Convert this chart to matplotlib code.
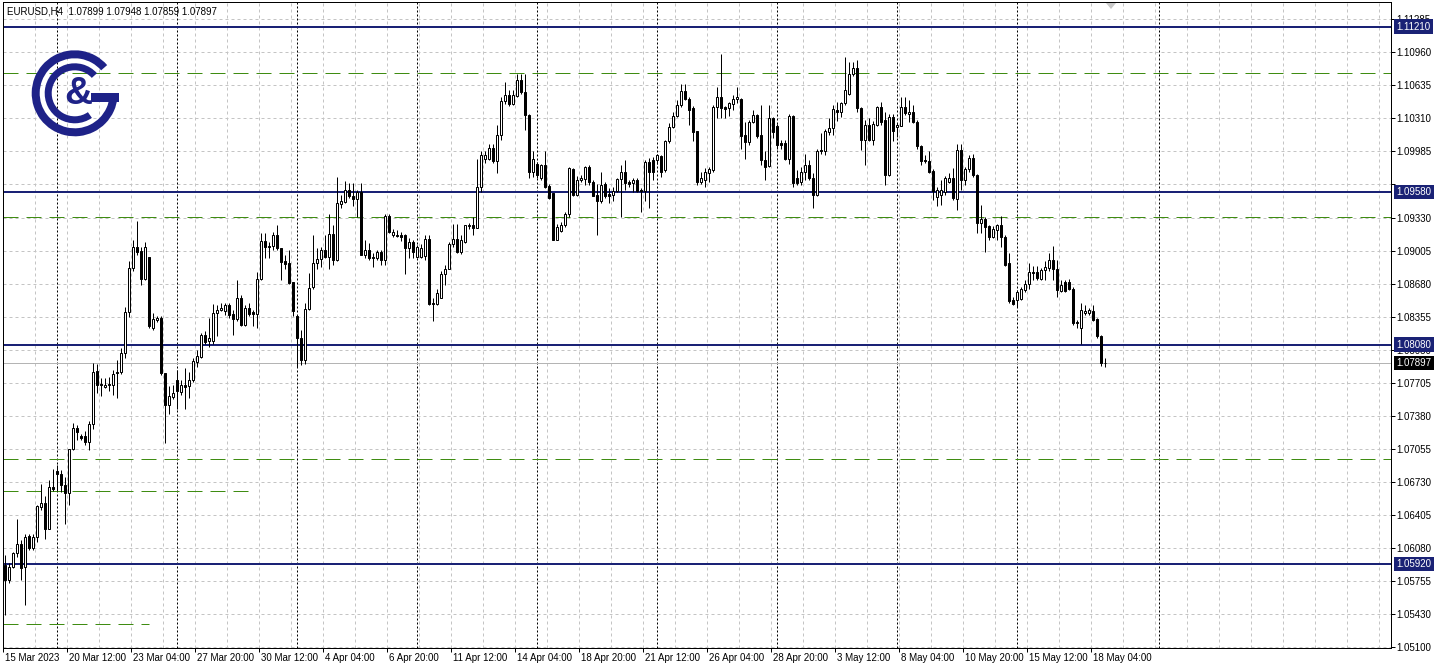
import matplotlib
matplotlib.use("Agg")
import matplotlib.pyplot as plt
from matplotlib.patches import Rectangle, Wedge, Polygon
import matplotlib.transforms as mtransforms

# ---------------- data (EURUSD H4) ----------------
opens = [1.0591, 1.0576, 1.0589, 1.0603, 1.0612, 1.0589, 1.0620, 1.0608, 1.0619, 1.0648,
         1.0652, 1.0626, 1.0668, 1.0684, 1.0681, 1.0670, 1.0662, 1.0705, 1.0726, 1.0718,
         1.0718, 1.0712, 1.0730, 1.0782, 1.0769, 1.0766, 1.0768, 1.0768, 1.0781, 1.0781,
         1.0800, 1.0840, 1.0883, 1.0904, 1.0900, 1.0873, 1.0894, 1.0824, 1.0832, 1.0834,
         1.0780, 1.0749, 1.0756, 1.0773, 1.0761, 1.0768, 1.0767, 1.0773, 1.0791, 1.0796,
         1.0817, 1.0812, 1.0812, 1.0839, 1.0842, 1.0841, 1.0847, 1.0838, 1.0833, 1.0854,
         1.0827, 1.0844, 1.0840, 1.0838, 1.0873, 1.0910, 1.0905, 1.0905, 1.0916, 1.0903,
         1.0890, 1.0888, 1.0870, 1.0836, 1.0814, 1.0793, 1.0843, 1.0865, 1.0888, 1.0892,
         1.0901, 1.0894, 1.0917, 1.0891, 1.0946, 1.0948, 1.0960, 1.0954, 1.0951, 1.0958,
         1.0896, 1.0901, 1.0894, 1.0893, 1.0899, 1.0891, 1.0935, 1.0916, 1.0916, 1.0916,
         1.0916, 1.0903, 1.0909, 1.0894, 1.0894, 1.0895, 1.0912, 1.0849, 1.0848, 1.0854,
         1.0877, 1.0882, 1.0907, 1.0912, 1.0899, 1.0909, 1.0925, 1.0926, 1.0923, 1.0963,
         1.0991, 1.0991, 1.1002, 1.0989, 1.1014, 1.1048, 1.1054, 1.1045, 1.1053, 1.1068,
         1.1057, 1.1034, 1.0978, 1.0986, 1.0972, 1.0985, 1.0964, 1.0957, 1.0911, 1.0920,
         1.0926, 1.0937, 1.0981, 1.0955, 1.0970, 1.0971, 1.0983, 1.0968, 1.0955, 1.0949,
         1.0966, 1.0956, 1.0955, 1.0959, 1.0971, 1.0978, 1.0968, 1.0967, 1.0970, 1.0960,
         1.0959, 1.0988, 1.0990, 1.0990, 1.0994, 1.0980, 1.1008, 1.1022, 1.1033, 1.1044,
         1.1058, 1.1050, 1.1041, 1.1018, 1.0968, 1.0970, 1.0977, 1.0980, 1.1042, 1.1052,
         1.1042, 1.1041, 1.1045, 1.1050, 1.1050, 1.1014, 1.1007, 1.1027, 1.1034, 1.1014,
         1.0990, 1.0984, 1.1031, 1.1023, 1.1006, 1.1006, 1.0991, 1.1033, 1.0972, 1.0968,
         1.0978, 1.0985, 1.0972, 1.0955, 1.1000, 1.0999, 1.1017, 1.1021, 1.1039, 1.1037,
         1.1046, 1.1055, 1.1074, 1.1080, 1.1041, 1.1009, 1.1024, 1.1009, 1.1024, 1.1042,
         1.1029, 1.0975, 1.1032, 1.1022, 1.1023, 1.1042, 1.1035, 1.1037, 1.1027, 1.1003,
         1.0990, 1.0989, 1.0979, 1.0953, 1.0955, 1.0958, 1.0968, 1.0972, 1.0951, 1.1000,
         1.0970, 1.0981, 1.0992, 1.0975, 1.0928, 1.0932, 1.0925, 1.0914, 1.0921, 1.0926,
         1.0914, 1.0888, 1.0852, 1.0852, 1.0853, 1.0862, 1.0868, 1.0879, 1.0879, 1.0873,
         1.0881, 1.0883, 1.0891, 1.0882, 1.0861, 1.0870, 1.0870, 1.0863, 1.0830, 1.0824,
         1.0839, 1.0839, 1.0841, 1.0833, 1.0816, 1.07899]

highs = [1.0601, 1.0593, 1.0604, 1.0636, 1.0616, 1.0622, 1.0622, 1.0622, 1.0650, 1.0671,
         1.0659, 1.0675, 1.0686, 1.0689, 1.0685, 1.0678, 1.0705, 1.0731, 1.0729, 1.0720,
         1.0723, 1.0733, 1.0790, 1.0789, 1.0775, 1.0775, 1.0776, 1.0783, 1.0793, 1.0805,
         1.0845, 1.0890, 1.0911, 1.0930, 1.0904, 1.0909, 1.0894, 1.0839, 1.0836, 1.0836,
         1.0780, 1.0767, 1.0768, 1.0783, 1.0773, 1.0785, 1.0781, 1.0795, 1.0803, 1.0819,
         1.0821, 1.0834, 1.0848, 1.0847, 1.0849, 1.0849, 1.0849, 1.0842, 1.0872, 1.0857,
         1.0847, 1.0849, 1.0842, 1.0879, 1.0918, 1.0918, 1.0909, 1.0919, 1.0926, 1.0903,
         1.0896, 1.0901, 1.0870, 1.0836, 1.0822, 1.0849, 1.0878, 1.0916, 1.0903, 1.0904,
         1.0916, 1.0937, 1.0926, 1.0973, 1.0955, 1.0969, 1.0967, 1.0967, 1.0960, 1.0967,
         1.0911, 1.0908, 1.0898, 1.0901, 1.0901, 1.0937, 1.0937, 1.0922, 1.0921, 1.0919,
         1.0917, 1.0913, 1.0911, 1.0906, 1.0907, 1.0916, 1.0916, 1.0854, 1.0863, 1.0880,
         1.0886, 1.0909, 1.0927, 1.0927, 1.0916, 1.0926, 1.0928, 1.0934, 1.0991, 1.0999,
         1.0999, 1.1005, 1.1005, 1.1024, 1.1052, 1.1066, 1.1059, 1.1059, 1.1074, 1.1074,
         1.1074, 1.1035, 1.0999, 1.0988, 1.0986, 1.0999, 1.0966, 1.0957, 1.0927, 1.0929,
         1.0939, 1.0983, 1.0982, 1.0974, 1.0975, 1.0984, 1.0985, 1.0970, 1.0966, 1.0978,
         1.0968, 1.0962, 1.0963, 1.0972, 1.0985, 1.0990, 1.0970, 1.0972, 1.0972, 1.0962,
         1.0990, 1.0992, 1.0993, 1.0996, 1.0995, 1.1009, 1.1026, 1.1037, 1.1049, 1.1065,
         1.1065, 1.1052, 1.1043, 1.1018, 1.0978, 1.0982, 1.0983, 1.1044, 1.1062, 1.1094,
         1.1043, 1.1047, 1.1054, 1.1062, 1.1051, 1.1027, 1.1029, 1.1039, 1.1035, 1.1044,
         1.0999, 1.1044, 1.1032, 1.1025, 1.1009, 1.1009, 1.1035, 1.1034, 1.0980, 1.0983,
         1.0996, 1.0990, 1.0977, 1.1001, 1.1016, 1.1020, 1.1031, 1.1044, 1.1047, 1.1047,
         1.1091, 1.1086, 1.1086, 1.1088, 1.1042, 1.1029, 1.1031, 1.1028, 1.1043, 1.1047,
         1.1037, 1.1035, 1.1035, 1.1026, 1.1052, 1.1052, 1.1049, 1.1044, 1.1029, 1.1004,
         1.0995, 1.0999, 1.0981, 1.0963, 1.0970, 1.0974, 1.0977, 1.0982, 1.1005, 1.1005,
         1.0983, 1.0995, 1.0996, 1.0976, 1.0945, 1.0934, 1.0926, 1.0925, 1.0927, 1.0935,
         1.0916, 1.0898, 1.0855, 1.0862, 1.0865, 1.0872, 1.0888, 1.0885, 1.0885, 1.0883,
         1.0890, 1.0898, 1.0905, 1.0891, 1.0872, 1.0872, 1.0873, 1.0865, 1.0832, 1.0849,
         1.0847, 1.0844, 1.0847, 1.0834, 1.0817, 1.07948]

lows = [1.0542, 1.0573, 1.0588, 1.0599, 1.0576, 1.0552, 1.0606, 1.0606, 1.0614, 1.0645,
        1.0617, 1.0626, 1.0664, 1.0664, 1.0663, 1.0631, 1.0650, 1.0704, 1.0714, 1.0714,
        1.0709, 1.0704, 1.0725, 1.0760, 1.0757, 1.0765, 1.0762, 1.0758, 1.0755, 1.0779,
        1.0795, 1.0835, 1.0880, 1.0896, 1.0867, 1.0872, 1.0824, 1.0822, 1.0830, 1.0778,
        1.0711, 1.0740, 1.0754, 1.0745, 1.0758, 1.0745, 1.0755, 1.0771, 1.0786, 1.0795,
        1.0809, 1.0806, 1.0809, 1.0816, 1.0841, 1.0837, 1.0834, 1.0817, 1.0831, 1.0826,
        1.0826, 1.0836, 1.0826, 1.0824, 1.0872, 1.0893, 1.0893, 1.0901, 1.0901, 1.0872,
        1.0882, 1.0868, 1.0836, 1.0786, 1.0788, 1.0789, 1.0842, 1.0863, 1.0882, 1.0884,
        1.0893, 1.0882, 1.0886, 1.0890, 1.0942, 1.0947, 1.0952, 1.0944, 1.0934, 1.0896,
        1.0893, 1.0891, 1.0884, 1.0891, 1.0886, 1.0886, 1.0918, 1.0914, 1.0914, 1.0910,
        1.0877, 1.0893, 1.0893, 1.0893, 1.0893, 1.0891, 1.0847, 1.0831, 1.0847, 1.0854,
        1.0867, 1.0882, 1.0904, 1.0898, 1.0897, 1.0908, 1.0922, 1.0916, 1.0923, 1.0958,
        1.0987, 1.0990, 1.0987, 1.0977, 1.1009, 1.1045, 1.1043, 1.1044, 1.1052, 1.1055,
        1.1019, 1.0972, 1.0973, 1.0972, 1.0970, 1.0962, 1.0951, 1.0911, 1.0911, 1.0919,
        1.0924, 1.0934, 1.0954, 1.0954, 1.0968, 1.0965, 1.0965, 1.0954, 1.0916, 1.0947,
        1.0952, 1.0947, 1.0949, 1.0958, 1.0934, 1.0960, 1.0963, 1.0958, 1.0958, 1.0939,
        1.0949, 1.0942, 1.0970, 1.0986, 1.0973, 1.0978, 1.1006, 1.1021, 1.1032, 1.1042,
        1.1049, 1.1024, 1.1008, 1.0965, 1.0966, 1.0963, 1.0968, 1.0978, 1.1031, 1.1031,
        1.1031, 1.1033, 1.1039, 1.1046, 1.1001, 1.0991, 1.1004, 1.1026, 1.1011, 1.0985,
        1.0970, 1.0983, 1.1011, 1.1001, 1.1001, 1.0990, 1.0986, 1.0963, 1.0965, 1.0965,
        1.0970, 1.0970, 1.0942, 1.0954, 1.0996, 1.0995, 1.1014, 1.1014, 1.1028, 1.1032,
        1.1044, 1.1054, 1.1072, 1.1037, 1.1000, 1.0985, 1.1008, 1.1004, 1.1023, 1.1024,
        1.0965, 1.0974, 1.1008, 1.1012, 1.1023, 1.1034, 1.1027, 1.1026, 1.1001, 1.0985,
        1.0987, 1.0977, 1.0950, 1.0944, 1.0945, 1.0955, 1.0967, 1.0950, 1.0940, 1.0960,
        1.0965, 1.0978, 1.0973, 1.0918, 1.0918, 1.0899, 1.0911, 1.0913, 1.0911, 1.0904,
        1.0885, 1.0849, 1.0847, 1.0845, 1.0852, 1.0860, 1.0863, 1.0872, 1.0872, 1.0872,
        1.0872, 1.0880, 1.0872, 1.0855, 1.0860, 1.0860, 1.0862, 1.0827, 1.0824, 1.0809,
        1.0837, 1.0837, 1.0831, 1.0814, 1.0787, 1.07859]

closes = [1.0576, 1.0589, 1.0603, 1.0612, 1.0588, 1.0619, 1.0608, 1.0619, 1.0649, 1.0652,
          1.0626, 1.0668, 1.0666, 1.0681, 1.0670, 1.0662, 1.0705, 1.0726, 1.0722, 1.0716,
          1.0712, 1.0730, 1.0781, 1.0768, 1.0768, 1.0768, 1.0769, 1.0779, 1.0780, 1.0800,
          1.0840, 1.0883, 1.0904, 1.0899, 1.0873, 1.0904, 1.0826, 1.0833, 1.0834, 1.0780,
          1.0749, 1.0757, 1.0760, 1.0762, 1.0768, 1.0766, 1.0773, 1.0792, 1.0797, 1.0817,
          1.0811, 1.0814, 1.0839, 1.0842, 1.0844, 1.0847, 1.0837, 1.0833, 1.0854, 1.0827,
          1.0844, 1.0838, 1.0838, 1.0873, 1.0910, 1.0904, 1.0904, 1.0916, 1.0903, 1.0889,
          1.0887, 1.0869, 1.0841, 1.0814, 1.0793, 1.0843, 1.0864, 1.0888, 1.0892, 1.0901,
          1.0894, 1.0917, 1.0891, 1.0947, 1.0949, 1.0960, 1.0954, 1.0951, 1.0958, 1.0896,
          1.0901, 1.0893, 1.0893, 1.0899, 1.0891, 1.0935, 1.0919, 1.0919, 1.0915, 1.0914,
          1.0903, 1.0909, 1.0899, 1.0904, 1.0903, 1.0912, 1.0848, 1.0848, 1.0859, 1.0877,
          1.0882, 1.0907, 1.0912, 1.0899, 1.0911, 1.0926, 1.0926, 1.0923, 1.0963, 1.0995,
          1.0995, 1.1002, 1.0989, 1.1014, 1.1048, 1.1054, 1.1045, 1.1054, 1.1068, 1.1057,
          1.1034, 1.0978, 1.0991, 1.0975, 1.0985, 1.0963, 1.0952, 1.0911, 1.0924, 1.0926,
          1.0937, 1.0982, 1.0955, 1.0970, 1.0972, 1.0983, 1.0968, 1.0954, 1.0949, 1.0965,
          1.0954, 1.0954, 1.0959, 1.0971, 1.0978, 1.0967, 1.0966, 1.0970, 1.0959, 1.0959,
          1.0988, 1.0978, 1.0978, 1.0995, 1.0978, 1.1008, 1.1022, 1.1033, 1.1044, 1.1058,
          1.1050, 1.1039, 1.1017, 1.0968, 1.0972, 1.0978, 1.0981, 1.1042, 1.1052, 1.1041,
          1.1040, 1.1046, 1.1050, 1.1052, 1.1013, 1.1007, 1.1027, 1.1034, 1.1013, 1.0990,
          1.0983, 1.1031, 1.1017, 1.1004, 1.1004, 1.0991, 1.1033, 1.0967, 1.0967, 1.0978,
          1.0985, 1.0972, 1.0955, 1.0999, 1.0999, 1.1018, 1.1021, 1.1040, 1.1037, 1.1046,
          1.1059, 1.1074, 1.1080, 1.1041, 1.1009, 1.1024, 1.1009, 1.1025, 1.1042, 1.1027,
          1.0975, 1.1032, 1.1018, 1.1024, 1.1042, 1.1036, 1.1037, 1.1027, 1.1003, 1.0989,
          1.0989, 1.0978, 1.0959, 1.0960, 1.0960, 1.0972, 1.0972, 1.0952, 1.1000, 1.0970,
          1.0981, 1.0992, 1.0975, 1.0928, 1.0932, 1.0924, 1.0914, 1.0922, 1.0926, 1.0914,
          1.0886, 1.0851, 1.0848, 1.0860, 1.0863, 1.0868, 1.0879, 1.0878, 1.0874, 1.0881,
          1.0884, 1.0891, 1.0882, 1.0862, 1.0867, 1.0861, 1.0863, 1.0829, 1.0829, 1.0842,
          1.0841, 1.0842, 1.0832, 1.0816, 1.0790, 1.07897]

symbol = "EURUSD,H4"
date_labels = ["15 Mar 2023", "20 Mar 12:00", "23 Mar 04:00", "27 Mar 20:00", "30 Mar 12:00",
               "4 Apr 04:00", "6 Apr 20:00", "11 Apr 12:00", "14 Apr 04:00", "18 Apr 20:00",
               "21 Apr 12:00", "26 Apr 04:00", "28 Apr 20:00", "3 May 12:00", "8 May 04:00",
               "10 May 20:00", "15 May 12:00", "18 May 04:00"]
date_label_bars = [0, 16, 32, 48, 64, 80, 96, 112, 128, 144, 160, 176, 192, 208, 224, 240, 256, 272]
price_ticks = [1.11285, 1.10960, 1.10635, 1.10310, 1.09985, 1.09660, 1.09330, 1.09005, 1.08680,
               1.08355, 1.08030, 1.07705, 1.07380, 1.07055, 1.06730, 1.06405, 1.06080, 1.05755,
               1.05430, 1.05100]
hidden_price_labels = [1.09660]
level_prices = [1.11210, 1.09580, 1.08080, 1.05920]
green_prices = [1.10750, 1.09333, 1.06954, 1.06639, 1.05329]
green_end_bars = [None, None, None, 61.0, 36.0]
week_separator_bars = [13, 43, 73, 103, 133, 163, 193, 223, 253, 288.7]
current_price = closes[-1]

# ---------------- layout ----------------
W, H, DPI = 1436, 670, 100
PX = 72.0 / DPI
plt.rcParams['font.family'] = ['Liberation Sans', 'DejaVu Sans']
plt.rcParams['lines.scale_dashes'] = False

NAVY = '#1a2275'
GREEN = '#3f8c12'
GRID = '#c4c4c4'

fig = plt.figure(figsize=(W / DPI, H / DPI), dpi=DPI)
fig.patch.set_facecolor('white')

L, R, T, B = 3, 1391, 2, 648
ax = fig.add_axes([L / W, 1 - B / H, (R - L) / W, (B - T) / H])
x0, step = 4.5, 4.0
ax.set_xlim((L - x0) / step, (R - x0) / step)
y_ref, p_ref, ppx = 19, 1.11285, 0.00009844
ax.set_ylim(p_ref - (B - y_ref) * ppx, p_ref + (y_ref - T) * ppx)
xmin, xmax = ax.get_xlim()

# grid
for p in price_ticks:
    ax.axhline(p, color=GRID, lw=PX, ls=(0, (3 * PX, 3 * PX)), zorder=0.5)
k = 0
while k * 8 - 0.4 < xmax:
    ax.axvline(k * 8 - 0.4, color=GRID, lw=PX, ls=(0, (3 * PX, 3 * PX)), zorder=0.5)
    k += 1

# week separators
for s in week_separator_bars:
    ax.axvline(s, color='black', lw=PX, ls=(0, (2 * PX, 2 * PX)), zorder=1)

# green dashed levels
for p, e in zip(green_prices, green_end_bars):
    ax.hlines(p, xmin, e if e is not None else xmax, color=GREEN, lw=PX,
              linestyles=[(0, (15 * PX, 8 * PX))], zorder=2)

# current price line
ax.axhline(current_price, color='#b4b4b4', lw=PX, zorder=1.5)

# navy levels
for p in level_prices:
    ax.axhline(p, color=NAVY, lw=2 * PX, zorder=2.2)

# candles
bw = 0.5
for i, (o, h, l, c) in enumerate(zip(opens, highs, lows, closes)):
    ax.vlines(i, l, h, color='black', lw=PX, zorder=5)
    ax.add_patch(Rectangle((i - bw / 2, min(o, c)), bw, abs(c - o),
                           facecolor='white' if c >= o else 'black',
                           edgecolor='black', lw=PX, zorder=6))

# spines
for sp in ax.spines.values():
    sp.set_color('black')
    sp.set_linewidth(PX)

# y axis on the right
ax.yaxis.tick_right()
ax.set_yticks(price_ticks)
ax.set_yticklabels(["" if p in hidden_price_labels else f"{p:.5f}" for p in price_ticks])
ax.tick_params(axis='y', direction='out', length=4 * PX, width=PX, pad=1 * PX,
               labelsize=7, colors='black')

# x axis
tick_pos = [b - 0.4 for b in date_label_bars]
ax.set_xticks(tick_pos)
ax.set_xticklabels(date_labels)
ax.tick_params(axis='x', direction='out', length=4 * PX, width=PX, pad=1 * PX,
               labelsize=7, colors='black')
off = mtransforms.ScaledTranslation(2 / DPI, 0, fig.dpi_scale_trans)
for lab in ax.get_xticklabels():
    lab.set_horizontalalignment('left')
    lab.set_transform(lab.get_transform() + off)

# price boxes
def price_box(p, fc):
    ax.annotate(f"{p:.5f}", xy=(1, p), xycoords=('axes fraction', 'data'),
                xytext=(5.5 * PX, 0), textcoords='offset points', ha='left', va='center',
                fontsize=7, color='white', annotation_clip=False, zorder=10,
                bbox=dict(boxstyle='square,pad=0.22', fc=fc, ec='none'))

for p in level_prices:
    price_box(p, NAVY)
price_box(current_price, 'black')

# header
fig.text(7 / W, 1 - 11 / H,
         f"{symbol}  {opens[-1]:.5f} {highs[-1]:.5f} {lows[-1]:.5f} {closes[-1]:.5f}",
         fontsize=7, va='center', ha='left', color='black')

# overlay in pixel coordinates for logo and marker
ov = fig.add_axes([0, 0, 1, 1])
ov.set_xlim(0, W)
ov.set_ylim(H, 0)
ov.axis('off')
ov.patch.set_visible(False)

LOGO = '#1e2288'
cx, cy = 74.7, 93.3
ov.add_patch(Wedge((cx, cy), 43, 5, 319, width=8, facecolor=LOGO, edgecolor='none'))
ov.add_patch(Rectangle((91, 92.5), 28, 9, facecolor=LOGO, edgecolor='none'))
ov.add_patch(Wedge((cx, cy), 30, 55, 318, width=7, facecolor=LOGO, edgecolor='none'))
ov.text(78, 94, "&", fontsize=28, fontweight='bold', color=LOGO, ha='center', va='center',
        family=['Liberation Sans', 'DejaVu Sans'])

# shift marker triangle at top
ov.add_patch(Polygon([[1106, 3], [1116, 3], [1111, 9]], closed=True, facecolor='#c8c8c8',
                     edgecolor='none'))

fig.savefig("out.png", dpi=DPI, facecolor='white')
